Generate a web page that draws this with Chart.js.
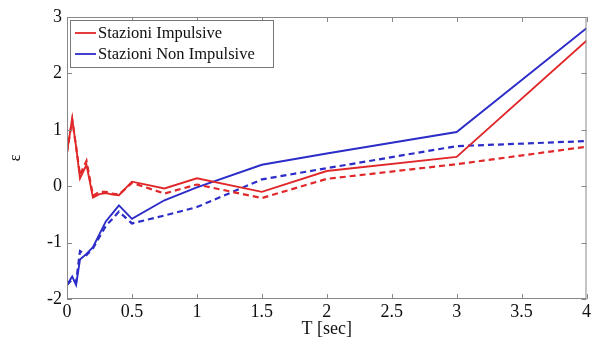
<!DOCTYPE html>
<html>
<head>
<meta charset="utf-8">
<script src="https://cdn.jsdelivr.net/npm/chart.js@4"></script>
<style>
  html, body { margin: 0; padding: 0; background: #fff; }
  #wrap { width: 593px; height: 340px; }
</style>
</head>
<body>
<div id="wrap"><canvas id="chart"></canvas></div>
<script>
// Periods (s) and epsilon values
const periods = [0, 0.04, 0.07, 0.1, 0.15, 0.2, 0.25, 0.3, 0.35, 0.4, 0.5, 0.75, 1, 1.5, 2, 3, 4];
const impulsiveSolid = [0.6, 1.2, 0.7, 0.14, 0.38, -0.2, -0.14, -0.12, -0.15, -0.16, 0.08, -0.04, 0.14, -0.1, 0.27, 0.52, 2.58];
const impulsiveDashed = [0.6, 1.18, 0.7, 0.2, 0.45, -0.17, -0.1, -0.1, -0.13, -0.15, 0.06, -0.13, 0.03, -0.21, 0.13, 0.39, 0.7];
const nonImpSolid = [-1.75, -1.6, -1.75, -1.3, -1.2, -1.08, -0.85, -0.62, -0.48, -0.34, -0.58, -0.25, -0.02, 0.38, 0.58, 0.96, 2.8];
const nonImpDashed = [-1.75, -1.65, -1.7, -1.15, -1.22, -1.1, -0.9, -0.7, -0.58, -0.45, -0.66, -0.52, -0.37, 0.12, 0.32, 0.71, 0.8];
const xTicks = [0, 0.5, 1, 1.5, 2, 2.5, 3, 3.5, 4];
const yTicks = [-2, -1, 0, 1, 2, 3];
const legendLabels = ['Stazioni Impulsive', 'Stazioni Non Impulsive'];

const RED = '#e0282a';
const BLUE = '#2c2cc8';
const FONT = '"Liberation Serif", "Times New Roman", serif';

function pts(ys) {
    return periods.map((t, i) => ({ x: t, y: ys[i] }));
}

function series(label, ys, color, dashed) {
    return {
        label: label,
        data: pts(ys),
        showLine: true,
        borderColor: color,
        backgroundColor: color,
        borderWidth: dashed ? 2.2 : 1.9,
        borderDash: dashed ? [6, 4] : [],
        pointRadius: 0,
        tension: 0
    };
}

// frame with inward ticks on all four sides + legend box inside the plot
const framePlugin = {
    id: 'frame',
    afterDraw(chart) {
        const ctx = chart.ctx;
        const a = chart.chartArea;
        const xs = chart.scales.x, ys = chart.scales.y;
        ctx.save();
        ctx.strokeStyle = '#888';
        ctx.lineWidth = 1;
        ctx.strokeRect(a.left + 0.5, a.top + 0.5, a.right - a.left - 1, a.bottom - a.top - 1);
        ctx.beginPath();
        xTicks.forEach(v => {
            const px = Math.round(xs.getPixelForValue(v)) + 0.5;
            ctx.moveTo(px, a.bottom); ctx.lineTo(px, a.bottom - 5);
            ctx.moveTo(px, a.top); ctx.lineTo(px, a.top + 5);
        });
        yTicks.forEach(v => {
            const py = Math.round(ys.getPixelForValue(v)) + 0.5;
            ctx.moveTo(a.left, py); ctx.lineTo(a.left + 5, py);
            ctx.moveTo(a.right, py); ctx.lineTo(a.right - 5, py);
        });
        ctx.stroke();

        // legend
        const bx = a.left + 3, by = a.top + 3, bw = 203, bh = 47;
        ctx.fillStyle = '#fff';
        ctx.fillRect(bx, by, bw, bh);
        ctx.strokeStyle = '#777';
        ctx.strokeRect(bx + 0.5, by + 0.5, bw, bh);
        ctx.font = '16.5px ' + FONT;
        ctx.textBaseline = 'middle';
        [RED, BLUE].forEach((c, i) => {
            const y = by + 13 + i * 21;
            ctx.strokeStyle = c;
            ctx.lineWidth = 1.8;
            ctx.beginPath();
            ctx.moveTo(bx + 5, y); ctx.lineTo(bx + 26, y);
            ctx.stroke();
            ctx.fillStyle = '#111';
            ctx.fillText(legendLabels[i], bx + 28, y + 1);
        });
        ctx.restore();
    }
};

new Chart(document.getElementById('chart'), {
    type: 'scatter',
    data: {
        datasets: [
            series(legendLabels[0], impulsiveSolid, RED, false),
            series(legendLabels[0] + ' (dashed)', impulsiveDashed, RED, true),
            series(legendLabels[1], nonImpSolid, BLUE, false),
            series(legendLabels[1] + ' (dashed)', nonImpDashed, BLUE, true)
        ]
    },
    options: {
        responsive: true,
        maintainAspectRatio: false,
        animation: false,
        layout: { padding: { top: 17, right: 3, left: 0, bottom: 0 } },
        plugins: {
            legend: { display: false },
            tooltip: { enabled: false }
        },
        scales: {
            x: {
                type: 'linear',
                min: 0,
                max: 4,
                afterBuildTicks: s => { s.ticks = xTicks.map(v => ({ value: v })); },
                afterFit: s => { s.height = 41; },
                grid: { display: false, drawTicks: false },
                border: { display: false },
                ticks: {
                    color: '#111',
                    padding: 2,
                    maxRotation: 0,
                    font: { family: FONT, size: 18 },
                    callback: v => String(v)
                },
                title: {
                    display: true,
                    text: 'T [sec]',
                    color: '#111',
                    padding: { top: -3, bottom: 0 },
                    font: { family: FONT, size: 18 }
                }
            },
            y: {
                min: -2,
                max: 3,
                afterBuildTicks: s => { s.ticks = yTicks.map(v => ({ value: v })); },
                afterFit: s => { s.width = 67; },
                grid: { display: false, drawTicks: false },
                border: { display: false },
                ticks: {
                    color: '#111',
                    padding: 5,
                    font: { family: FONT, size: 18 }
                },
                title: {
                    display: true,
                    text: 'ε',
                    color: '#111',
                    padding: { top: 6, bottom: 14 },
                    font: { family: FONT, size: 16 }
                }
            }
        }
    },
    plugins: [framePlugin]
});
</script>
</body>
</html>
